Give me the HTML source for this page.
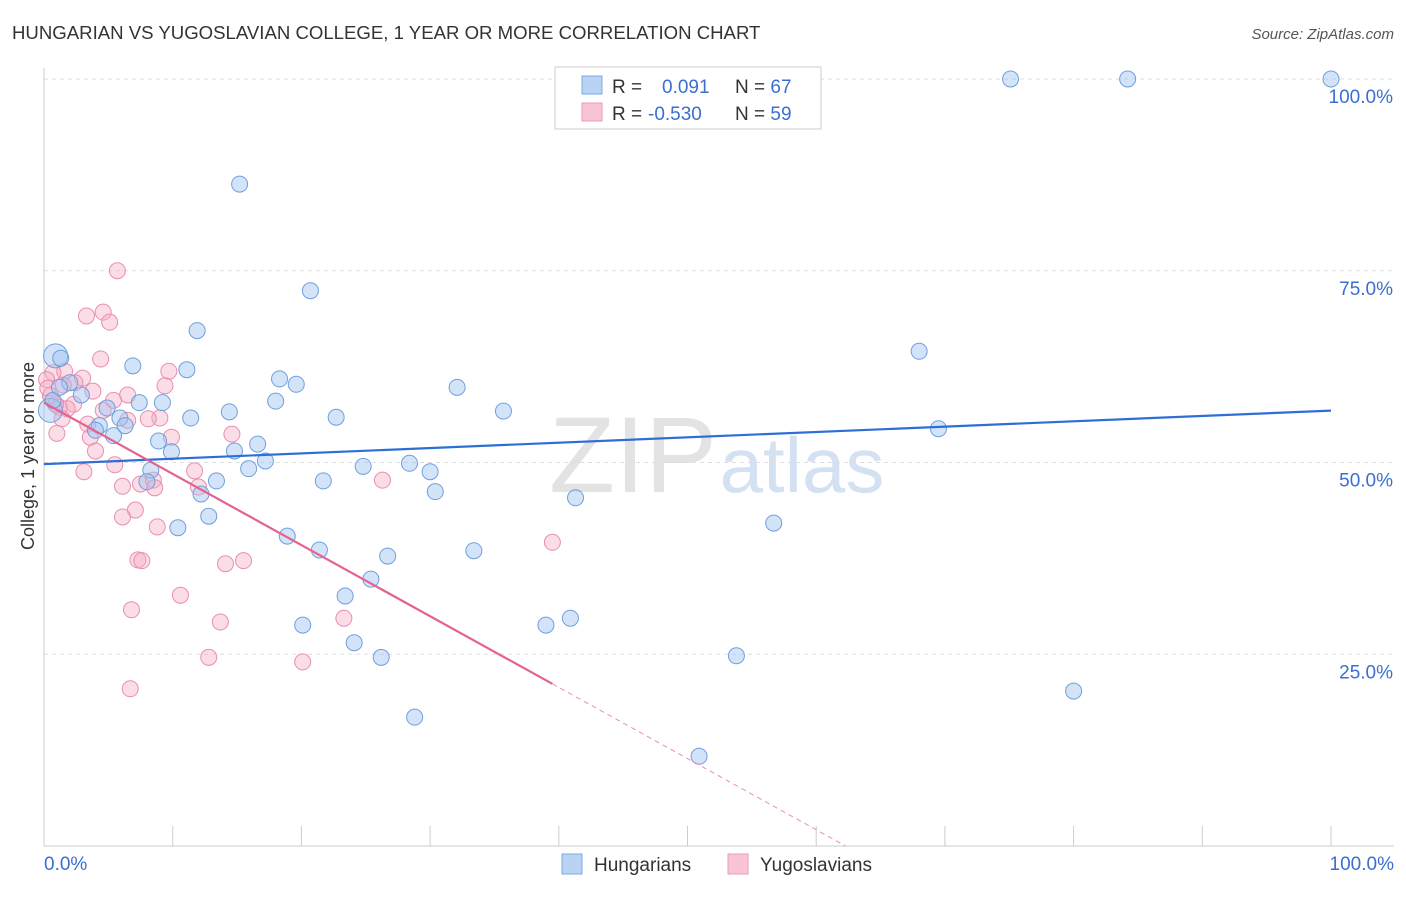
<!DOCTYPE html>
<html><head><meta charset="utf-8">
<style>
body{margin:0;background:#fff;font-family:"Liberation Sans",sans-serif;}
svg text{font-family:"Liberation Sans",sans-serif;}
</style></head>
<body>
<svg id="chart" width="1406" height="892">
<text x="12" y="39" font-size="18.6" fill="#333">HUNGARIAN VS YUGOSLAVIAN COLLEGE, 1 YEAR OR MORE CORRELATION CHART</text>
<text x="1394" y="39" font-size="15" fill="#555" text-anchor="end" font-style="italic">Source: ZipAtlas.com</text>
<text transform="translate(34,456) rotate(-90)" font-size="18" fill="#333" text-anchor="middle">College, 1 year or more</text>
<g id="watermark">
<text x="633" y="492" font-size="108" fill="#ddd" font-family="Liberation Serif" text-anchor="middle" opacity="0.8">ZIP</text>
<text x="802" y="492" font-size="78" fill="#c9daf0" text-anchor="middle" opacity="0.8">atlas</text>
</g>
<g id="grid"></g><g id="axes"></g><g id="marks"></g>
<g>
<rect x="555" y="67" width="266" height="62" fill="#fff" stroke="#ccc"/>
<rect x="582" y="76" width="20" height="18" fill="#b9d3f5" stroke="#7fa8e4"/>
<rect x="582" y="103" width="20" height="18" fill="#f9c5d5" stroke="#ea9bb6"/>
<text x="612" y="93" font-size="19" fill="#333">R = <tspan fill="#3a6fd0" x="662">0.091</tspan><tspan x="735" fill="#333">N = </tspan><tspan fill="#3a6fd0">67</tspan></text>
<text x="612" y="120" font-size="19" fill="#333">R = <tspan fill="#3a6fd0" x="648">-0.530</tspan><tspan x="735" fill="#333">N = </tspan><tspan fill="#3a6fd0">59</tspan></text>
</g>
<g>
<rect x="562" y="854" width="20" height="20" fill="#b9d3f5" stroke="#7fa8e4"/>
<text x="594" y="871" font-size="19" fill="#333">Hungarians</text>
<rect x="728" y="854" width="20" height="20" fill="#f9c5d5" stroke="#ea9bb6"/>
<text x="760" y="871" font-size="19" fill="#333">Yugoslavians</text>
</g>
</svg>
<script>
const blueX=[75.1,84.2,100,15.2,20.7,11.9,68.0,0.9,1.3,6.9,11.1,18.3,19.6,2.0,32.1,2.9,7.4,9.2,18.0,35.7,14.4,4.9,5.9,11.4,22.7,6.3,69.5,4.3,5.4,8.9,16.6,14.8,9.9,17.2,15.9,24.8,28.4,30.0,8.3,8.0,13.4,21.7,12.2,30.4,41.3,12.8,10.4,56.7,18.9,21.4,33.4,26.7,25.4,23.4,20.1,39.0,40.9,24.1,26.2,53.8,80.0,28.8,50.9,0.5,0.7,4.0,1.2];
const blueY=[100,100,100,86.3,72.4,67.2,64.5,63.9,63.6,62.6,62.1,60.9,60.2,60.4,59.8,58.8,57.8,57.8,58.0,56.7,56.6,57.1,55.8,55.8,55.9,54.8,54.4,54.8,53.5,52.8,52.4,51.5,51.4,50.2,49.2,49.5,49.9,48.8,49.0,47.5,47.6,47.6,45.9,46.2,45.4,43.0,41.5,42.1,40.4,38.6,38.5,37.8,34.8,32.6,28.8,28.8,29.7,26.5,24.6,24.8,20.2,16.8,11.7,56.8,58.1,54.2,59.8];
const pinkX=[5.7,4.6,3.3,5.1,4.4,9.7,1.6,0.7,3.0,0.2,2.4,1.5,9.4,6.5,5.4,0.5,1.2,2.3,1.8,4.6,9.0,8.1,1.4,3.4,6.5,1.0,3.6,9.9,14.6,4.0,5.5,11.7,3.1,26.3,6.1,7.5,8.5,8.6,12.0,7.1,6.1,8.8,39.5,7.3,7.6,14.1,15.5,10.6,6.8,13.7,23.3,12.8,20.1,6.7,0.9,3.8,0.3];
const pinkY=[75.0,69.6,69.1,68.3,63.5,61.9,61.9,61.7,61.0,60.8,60.4,60.1,60.0,58.8,58.1,58.7,57.2,57.6,57.0,56.8,55.8,55.7,55.7,55.0,55.5,53.8,53.3,53.3,53.7,51.5,49.7,48.9,48.8,47.7,46.9,47.2,47.7,46.7,46.8,43.8,42.9,41.6,39.6,37.3,37.2,36.8,37.2,32.7,30.8,29.2,29.7,24.6,24.0,20.5,57.6,59.3,59.7];
const bigBlue=[7,63];
const yTicks=[25,50,75,100];
const xTickVals=[0,10,20,30,40,50,60,70,80,90,100];
const NS='http://www.w3.org/2000/svg';
const X0=44,X1=1331,Y0=846,Y1=79;
const sx=v=>X0+(X1-X0)*v/100, sy=v=>Y0-(Y0-Y1)*v/100;
function mk(t,a,p){const e=document.createElementNS(NS,t);for(const k in a)e.setAttribute(k,a[k]);document.getElementById(p).appendChild(e);return e;}
yTicks.forEach(t=>{
 const l=mk('line',{x1:X0,x2:1394,y1:sy(t),y2:sy(t),stroke:'#ddd','stroke-dasharray':'4,4'},'grid');
 
 
 const tx=mk('text',{x:1393,y:sy(t)+24,'font-size':19,fill:'#3a6fd0','text-anchor':'end'},'axes');
 tx.textContent=t.toFixed(1)+'%';
 
 
});
const ya=mk('line',{x1:X0,x2:X0,y1:68,y2:Y0,stroke:'#ccc'},'axes');


const xa=mk('line',{x1:X0,x2:1394,y1:Y0,y2:Y0,stroke:'#ccc'},'axes');


xTickVals.forEach(t=>{
 const l=mk('line',{x1:sx(t),x2:sx(t),y1:826,y2:Y0,stroke:'#ccc'},'axes');
 
 
});
[[0,'0.0%','start',44],[100,'100.0%','end',1394]].forEach(a=>{
 const tx=mk('text',{x:a[3],y:870,'font-size':19,fill:'#3a6fd0','text-anchor':a[2]},'axes');
 tx.textContent=a[1];
 
 
});
function fit(xs,ys){const n=xs.length;let mx=0,my=0;for(let i=0;i<n;i++){mx+=xs[i];my+=ys[i];}mx/=n;my/=n;let sxy=0,sxx=0;for(let i=0;i<n;i++){sxy+=(xs[i]-mx)*(ys[i]-my);sxx+=(xs[i]-mx)**2;}const b=sxy/sxx;return [my-b*mx,b];}
pinkX.forEach((x,i)=>{
 const c=mk('circle',{cx:sx(x),cy:sy(pinkY[i]),r:8,fill:'rgba(246,170,196,0.4)',stroke:'#e98fae','stroke-width':1},'marks');
 
 
});
blueX.forEach((x,i)=>{
 const r=bigBlue.includes(i)?12:8;
 const c=mk('circle',{cx:sx(x),cy:sy(blueY[i]),r:r,fill:'rgba(160,196,240,0.45)',stroke:'#6f9fe0','stroke-width':1},'marks');
 
 
});
const [ba,bb]=fit(blueX,blueY);
const bl=mk('line',{x1:sx(0),y1:sy(ba),x2:sx(100),y2:sy(ba+bb*100),stroke:'#2e6fd6','stroke-width':2.2},'marks');


const [pa,pb]=fit(pinkX,pinkY);
const pmax=Math.max(...pinkX), xz=-pa/pb;
const pl=mk('line',{x1:sx(0),y1:sy(pa),x2:sx(pmax),y2:sy(pa+pb*pmax),stroke:'#e5628f','stroke-width':2.2},'marks');


const pd=mk('line',{x1:sx(pmax),y1:sy(pa+pb*pmax),x2:sx(xz),y2:sy(0),stroke:'#e98fae','stroke-width':1,'stroke-dasharray':'5,4'},'marks');


</script>
</body></html>
